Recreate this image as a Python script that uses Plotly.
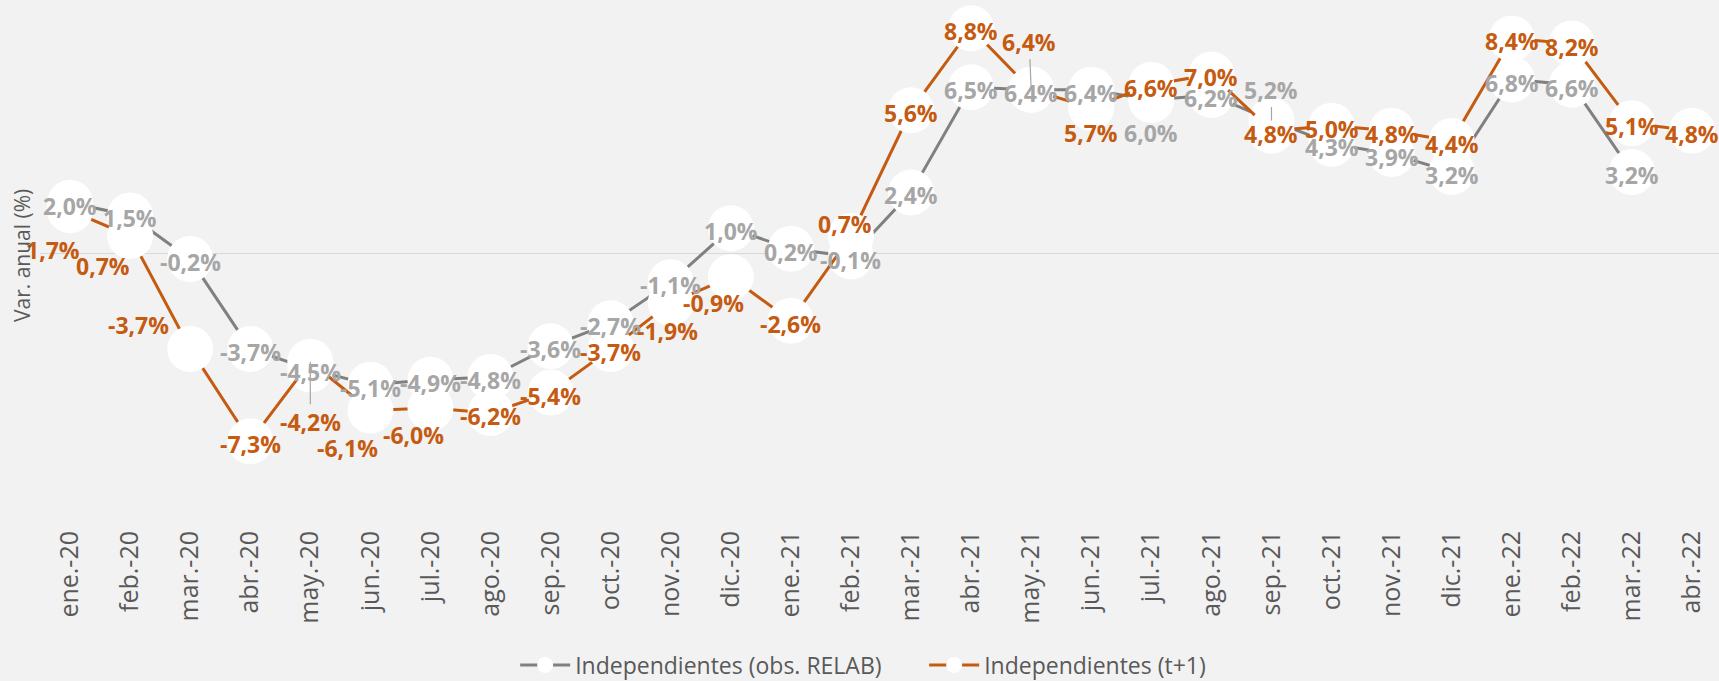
import plotly.graph_objects as go

categories = ["ene.-20", "feb.-20", "mar.-20", "abr.-20", "may.-20", "jun.-20", "jul.-20",
              "ago.-20", "sep.-20", "oct.-20", "nov.-20", "dic.-20", "ene.-21", "feb.-21",
              "mar.-21", "abr.-21", "may.-21", "jun.-21", "jul.-21", "ago.-21", "sep.-21",
              "oct.-21", "nov.-21", "dic.-21", "ene.-22", "feb.-22", "mar.-22", "abr.-22"]

relab = [2.0, 1.5, -0.2, -3.7, -4.5, -5.1, -4.9, -4.8, -3.6, -2.7, -1.1, 1.0, 0.2, -0.1,
         2.4, 6.5, 6.4, 6.4, 6.0, 6.2, 5.2, 4.3, 3.9, 3.2, 6.8, 6.6, 3.2, None]

t1 = [1.7, 0.7, -3.7, -7.3, -4.2, -6.1, -6.0, -6.2, -5.4, -3.7, -1.9, -0.9, -2.6, 0.7,
      5.6, 8.8, 6.4, 5.7, 6.6, 7.0, 4.8, 5.0, 4.8, 4.4, 8.4, 8.2, 5.1, 4.8]

series_names = ["Independientes (obs. RELAB)", "Independientes (t+1)"]

# label placement styling (pixel shifts), keyed by category index
gray_shift = {18: (0, -30)}
gray_leader = {20: (0, -31)}
orange_shift = {0: (-17, -37), 1: (-27, -27), 2: (-52, 27), 5: (-23, -35), 6: (-17, -24),
                10: (-3, -25), 11: (-17, -23), 13: (-6, 15), 17: (0, -22)}
orange_leader = {4: (0, 60), 16: (-2, -48)}

GRAY_LINE = "#808080"
GRAY_TEXT = "#A6A6A6"
ORANGE = "#C55A11"
AXIS_TEXT = "#595959"
FONT = "Open Sans"


def fmt(v):
    return f"{v:.1f}".replace(".", ",") + "%"


fig = go.Figure()
for name, vals, col in [(series_names[0], relab, GRAY_LINE), (series_names[1], t1, ORANGE)]:
    fig.add_trace(go.Scatter(
        x=categories, y=vals, name=name, mode="lines+markers",
        line=dict(color=col, width=3),
        marker=dict(size=46, color="white", line=dict(width=0)),
        cliponaxis=False, hoverinfo="skip",
    ))

annotations = []
for vals, col, shifts, leaders in [(relab, GRAY_TEXT, gray_shift, gray_leader),
                                   (t1, ORANGE, orange_shift, orange_leader)]:
    for i, v in enumerate(vals):
        if v is None:
            continue
        font = dict(family=FONT, size=23, color=col, weight="bold")
        if i in leaders:
            ax, ay = leaders[i]
            annotations.append(dict(
                x=categories[i], y=v, xref="x", yref="y", text=fmt(v), font=font,
                showarrow=True, arrowhead=0, arrowwidth=1.2, arrowcolor="#A6A6A6",
                ax=ax, ay=ay, standoff=0))
        else:
            xs, ys = shifts.get(i, (0, 0))
            annotations.append(dict(
                x=categories[i], y=v, xref="x", yref="y", text=fmt(v), font=font,
                showarrow=False, xshift=xs, yshift=ys - 3,
                xanchor="center", yanchor="middle"))

annotations.append(dict(
    x=-0.0107, y=0.498, xref="paper", yref="paper", text="Var. anual (%)",
    textangle=-90, showarrow=False, xanchor="center", yanchor="middle",
    font=dict(family=FONT, size=21, color=AXIS_TEXT)))

fig.update_layout(
    width=1719, height=681,
    margin=dict(l=40, r=0, t=0, b=171, autoexpand=False),
    paper_bgcolor="#F2F2F2", plot_bgcolor="#F2F2F2",
    font=dict(family=FONT, color=AXIS_TEXT),
    showlegend=True,
    legend=dict(orientation="h", x=0.283, xanchor="left", y=-0.304, yanchor="middle",
                font=dict(family=FONT, size=23, color=AXIS_TEXT),
                bgcolor="rgba(0,0,0,0)", itemwidth=50, entrywidth=344,
                entrywidthmode="pixels", traceorder="normal"),
    annotations=annotations,
    xaxis=dict(type="category", categoryorder="array", categoryarray=categories,
               range=[-0.5, 27.45], tickangle=-90, showgrid=False, showline=False,
               zeroline=False, ticks="", ticklabelstandoff=15, automargin=False,
               tickfont=dict(family=FONT, size=25, color=AXIS_TEXT)),
    yaxis=dict(range=[-9.98, 9.9], showticklabels=False, showgrid=False, showline=False,
               zeroline=True, zerolinecolor="#D9D9D9", zerolinewidth=1.3, ticks="",
               automargin=False),
)

fig.write_html("out.html", config={"displayModeBar": False},
               post_script="document.body.style.margin='0';")
